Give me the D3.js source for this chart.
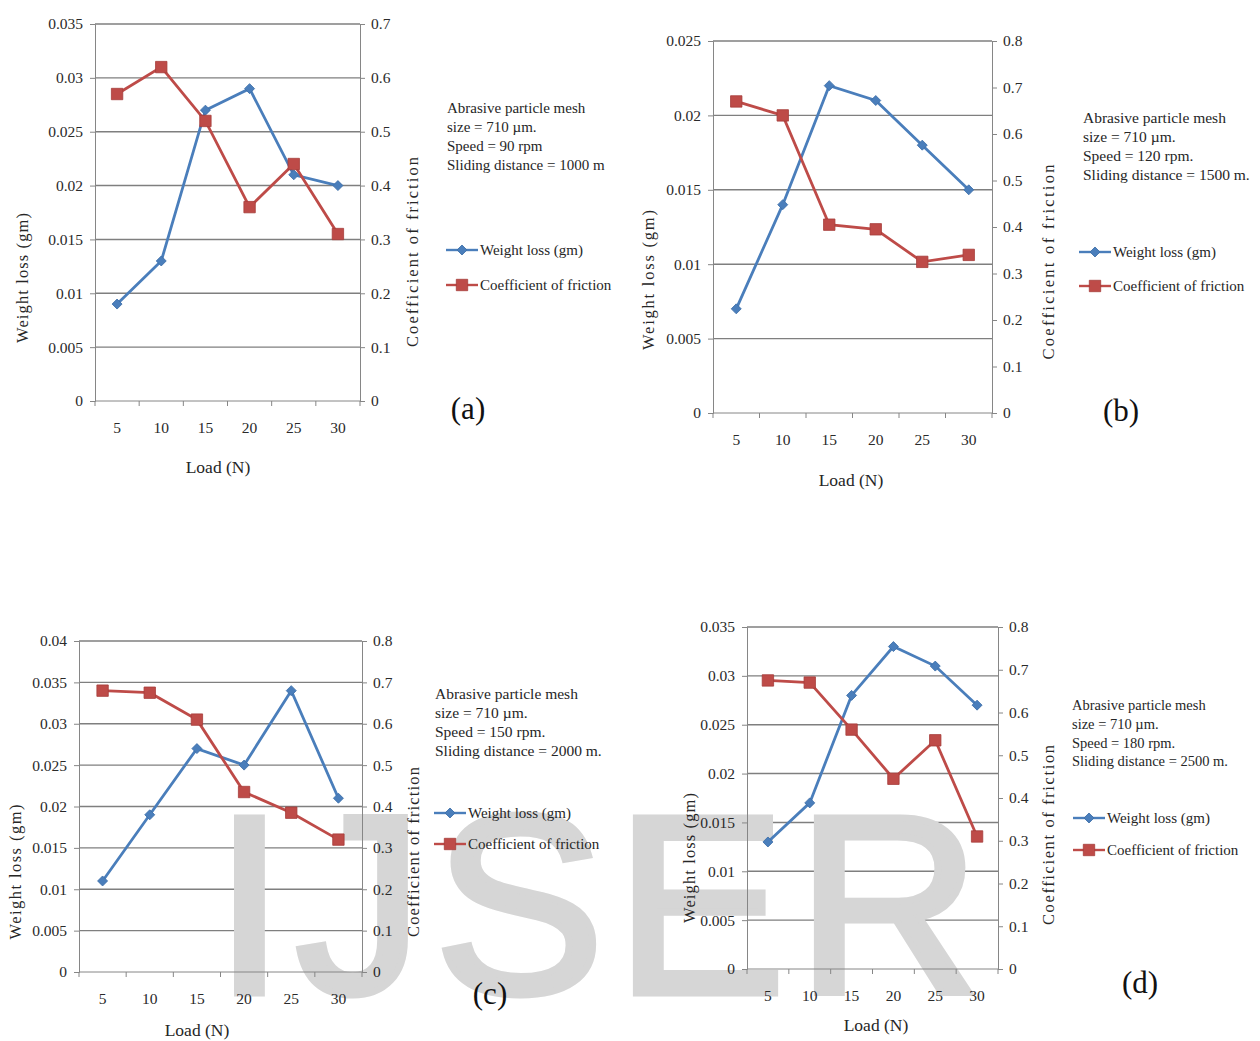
<!DOCTYPE html>
<html lang="en">
<head>
<meta charset="UTF-8">
<title>weight loss and friction vs load</title>
<style>
	body { margin: 0; background: #fff; }
	svg text { font-family: "Liberation Serif", "Times New Roman", serif; fill: #262626; }
</style>
</head>
<body>
<svg id="cont" width="1260" height="1041">
	<rect width="1260" height="1041" fill="#fff"></rect>
	<g id="grids"></g>
	<g id="mark"></g>
	<g id="charts"></g>
</svg>
<script src="https://cdn.jsdelivr.net/npm/d3@7"></script>
<script>
	// loads on the x axis, same for all four tests
	const loads = [5, 10, 15, 20, 25, 30];

	const wlA  = [0.009, 0.013, 0.027, 0.029, 0.021, 0.020];
	const cofA = [0.57, 0.62, 0.52, 0.36, 0.44, 0.31];
	const wlB  = [0.007, 0.014, 0.022, 0.021, 0.018, 0.015];
	const cofB = [0.67, 0.64, 0.405, 0.395, 0.325, 0.34];
	const wlC  = [0.011, 0.019, 0.027, 0.025, 0.034, 0.021];
	const cofC = [0.68, 0.675, 0.61, 0.435, 0.385, 0.32];
	const wlD  = [0.013, 0.017, 0.028, 0.033, 0.031, 0.027];
	const cofD = [0.675, 0.67, 0.56, 0.445, 0.535, 0.31];

	const wlTicks25 = [0, 0.005, 0.01, 0.015, 0.02, 0.025];
	const wlLabels25 = ["0", "0.005", "0.01", "0.015", "0.02", "0.025"];
	const wlTicks35 = [0, 0.005, 0.01, 0.015, 0.02, 0.025, 0.03, 0.035];
	const wlLabels35 = ["0", "0.005", "0.01", "0.015", "0.02", "0.025", "0.03", "0.035"];
	const wlTicks40 = [0, 0.005, 0.01, 0.015, 0.02, 0.025, 0.03, 0.035, 0.04];
	const wlLabels40 = ["0", "0.005", "0.01", "0.015", "0.02", "0.025", "0.03", "0.035", "0.04"];
	const cofTicks7 = [0, 0.1, 0.2, 0.3, 0.4, 0.5, 0.6, 0.7];
	const cofLabels7 = ["0", "0.1", "0.2", "0.3", "0.4", "0.5", "0.6", "0.7"];
	const cofTicks8 = [0, 0.1, 0.2, 0.3, 0.4, 0.5, 0.6, 0.7, 0.8];
	const cofLabels8 = ["0", "0.1", "0.2", "0.3", "0.4", "0.5", "0.6", "0.7", "0.8"];

	const notesA = ["Abrasive particle mesh", "size = 710 \u00b5m.", "Speed = 90 rpm", "Sliding distance = 1000 m"];
	const notesB = ["Abrasive particle mesh", "size = 710 \u00b5m.", "Speed =  120 rpm.", "Sliding distance = 1500 m."];
	const notesC = ["Abrasive particle mesh", "size = 710 \u00b5m.", "Speed =  150 rpm.", "Sliding distance = 2000 m."];
	const notesD = ["Abrasive particle mesh", "size = 710 \u00b5m.", "Speed =  180 rpm.", "Sliding distance = 2500 m."];

	const seriesNames = ["Weight loss (gm)", "Coefficient of friction"];
	const panelTags = ["(a)", "(b)", "(c)", "(d)"];
	const xTitle = "Load (N)";
	const markText = "IJSER";

	const blue = "#4a7ebb", red = "#be4b48";
	const serif = "'Liberation Serif', 'Times New Roman', serif";

	// where each panel sits on the page
	const layout = [
		{l: 95, r: 360, t: 24, b: 401, wlX: 22, wlY: 278, wlLen: 130, cofX: 412, cofY: 252, cofLen: 190,
		 loadX: 218, loadY: 467, noteX: 447, noteY: 108, noteFs: 15, legX: 446, legY: 250, legGap: 35, tagX: 468, tagY: 408},
		{l: 713, r: 992, t: 41, b: 413, wlX: 648, wlY: 280, wlLen: 140, cofX: 1048, cofY: 262, cofLen: 195,
		 loadX: 851, loadY: 480, noteX: 1083, noteY: 118, noteFs: 15.5, legX: 1079, legY: 252, legGap: 34, tagX: 1121, tagY: 410},
		{l: 79, r: 362, t: 641, b: 972, wlX: 15, wlY: 872, wlLen: 135, cofX: 413, cofY: 852, cofLen: 170,
		 loadX: 197, loadY: 1030, noteX: 435, noteY: 694, noteFs: 15.5, legX: 434, legY: 813, legGap: 31, tagX: 490, tagY: 993},
		{l: 747, r: 998, t: 627, b: 969, wlX: 689, wlY: 858, wlLen: 130, cofX: 1048, cofY: 835, cofLen: 180,
		 loadX: 876, loadY: 1025, noteX: 1072, noteY: 705, noteFs: 14.5, legX: 1073, legY: 818, legGap: 32, tagX: 1140, tagY: 982}
	];

	const panels = [
		{wl: wlA, cof: cofA, wlTicks: wlTicks35, wlLabels: wlLabels35, cofTicks: cofTicks7, cofLabels: cofLabels7, notes: notesA},
		{wl: wlB, cof: cofB, wlTicks: wlTicks25, wlLabels: wlLabels25, cofTicks: cofTicks8, cofLabels: cofLabels8, notes: notesB},
		{wl: wlC, cof: cofC, wlTicks: wlTicks40, wlLabels: wlLabels40, cofTicks: cofTicks8, cofLabels: cofLabels8, notes: notesC},
		{wl: wlD, cof: cofD, wlTicks: wlTicks35, wlLabels: wlLabels35, cofTicks: cofTicks8, cofLabels: cofLabels8, notes: notesD}
	];

	let grids = d3.select("#grids");
	let charts = d3.select("#charts");

	function marker(g, kind, x, y) {
		if (kind == 0) {
			g.append("path")
				.attr("d", d3.symbol(d3.symbolSquare, 50)())
				.attr("transform", `translate(${x},${y}) rotate(45)`)
				.attr("fill", blue).attr("stroke", "#3c6ea8").attr("stroke-width", 0.8);
		} else {
			g.append("path")
				.attr("d", d3.symbol(d3.symbolSquare, 130)())
				.attr("transform", `translate(${x},${y})`)
				.attr("fill", red).attr("stroke", "#a63c3a").attr("stroke-width", 0.8);
		}
	}

	function drawPanel(p, L, tag) {
		let x = d3.scaleBand().domain(loads).range([L.l, L.r]);
		let yL = d3.scaleLinear().domain([0, d3.max(p.wlTicks)]).range([L.b, L.t]);
		let yR = d3.scaleLinear().domain([0, d3.max(p.cofTicks)]).range([L.b, L.t]);

		// gridlines follow the left axis
		grids.append("g").selectAll("line")
			.data(p.wlTicks.filter(d => d > 0))
			.join("line")
			.attr("x1", L.l).attr("x2", L.r)
			.attr("y1", d => yL(d)).attr("y2", d => yL(d))
			.attr("stroke", "#7f7f7f").attr("stroke-width", 1.4);

		let g = charts.append("g");

		let left = d3.axisLeft(yL).tickValues(p.wlTicks).tickSize(5).tickPadding(7)
			.tickFormat((d, i) => p.wlLabels[i]);
		g.append("g").attr("transform", `translate(${L.l},0)`).call(left);

		let right = d3.axisRight(yR).tickValues(p.cofTicks).tickSize(5).tickPadding(6)
			.tickFormat((d, i) => p.cofLabels[i]);
		g.append("g").attr("transform", `translate(${L.r},0)`).call(right);

		let bottom = d3.axisBottom(x).tickSize(0).tickPadding(21);
		let xa = g.append("g").attr("transform", `translate(0,${L.b})`).call(bottom);
		xa.select(".domain").remove();
		g.append("line").attr("x1", L.l).attr("x2", L.r).attr("y1", L.b).attr("y2", L.b)
			.attr("stroke", "#868686");
		// excel style ticks between the categories
		g.append("g").selectAll("line")
			.data(loads.map(d => x(d)).concat([L.r]))
			.join("line")
			.attr("x1", d => d).attr("x2", d => d)
			.attr("y1", L.b).attr("y2", L.b + 5)
			.attr("stroke", "#868686");

		g.selectAll(".domain, .tick line").attr("stroke", "#868686");
		g.selectAll(".tick text")
			.style("font-family", serif).attr("font-size", 15.5).style("fill", "#2a2a2a");

		// axis titles
		g.append("text")
			.attr("transform", `translate(${L.wlX},${L.wlY}) rotate(-90)`)
			.attr("text-anchor", "middle").attr("dy", "0.35em")
			.attr("font-size", 16.5).attr("textLength", L.wlLen).attr("lengthAdjust", "spacing")
			.text(seriesNames[0]);
		g.append("text")
			.attr("transform", `translate(${L.cofX},${L.cofY}) rotate(-90)`)
			.attr("text-anchor", "middle").attr("dy", "0.35em")
			.attr("font-size", 16.5).attr("textLength", L.cofLen).attr("lengthAdjust", "spacing")
			.text(seriesNames[1]);
		g.append("text")
			.attr("x", L.loadX).attr("y", L.loadY).attr("dy", "0.35em")
			.attr("text-anchor", "middle").attr("font-size", 17.5)
			.text(xTitle);

		// series
		let cx = d => x(d) + x.bandwidth() / 2;
		let lineWl = d3.line().x((d, i) => cx(loads[i])).y(d => yL(d));
		let lineCof = d3.line().x((d, i) => cx(loads[i])).y(d => yR(d));
		g.append("path").attr("d", lineWl(p.wl)).attr("fill", "none")
			.attr("stroke", blue).attr("stroke-width", 2.8);
		g.append("path").attr("d", lineCof(p.cof)).attr("fill", "none")
			.attr("stroke", red).attr("stroke-width", 2.8);
		p.wl.forEach((d, i) => marker(g, 0, cx(loads[i]), yL(d)));
		p.cof.forEach((d, i) => marker(g, 1, cx(loads[i]), yR(d)));

		// test conditions
		g.append("g").selectAll("text")
			.data(p.notes)
			.join("text")
			.attr("x", L.noteX).attr("y", (d, i) => L.noteY + i * 18.8)
			.attr("dy", "0.35em").attr("font-size", L.noteFs)
			.text(d => d);

		// legend
		seriesNames.forEach((name, i) => {
			let ly = L.legY + i * L.legGap;
			g.append("line").attr("x1", L.legX).attr("x2", L.legX + 32)
				.attr("y1", ly).attr("y2", ly)
				.attr("stroke", i == 0 ? blue : red).attr("stroke-width", 2.4);
			marker(g, i, L.legX + 16, ly);
			g.append("text").attr("x", L.legX + 34).attr("y", ly).attr("dy", "0.35em")
				.attr("font-size", 15).text(name);
		});

		g.append("text")
			.attr("x", L.tagX).attr("y", L.tagY).attr("dy", "0.35em")
			.attr("text-anchor", "middle").attr("font-size", 31).style("fill", "#111")
			.text(tag);
	}

	panels.forEach((p, i) => drawPanel(p, layout[i], panelTags[i]));

	// journal watermark across the lower half
	d3.select("#mark").append("text")
		.attr("x", 214).attr("y", 993)
		.attr("font-size", 255)
		.attr("letter-spacing", 11)
		.style("font-family", "'Liberation Sans', Arial, sans-serif")
		.style("fill", "#d6d6d6")
		.style("stroke", "#d6d6d6")
		.style("stroke-width", 7)
		.style("stroke-linejoin", "miter")
		.text(markText);
</script>
</body>
</html>
